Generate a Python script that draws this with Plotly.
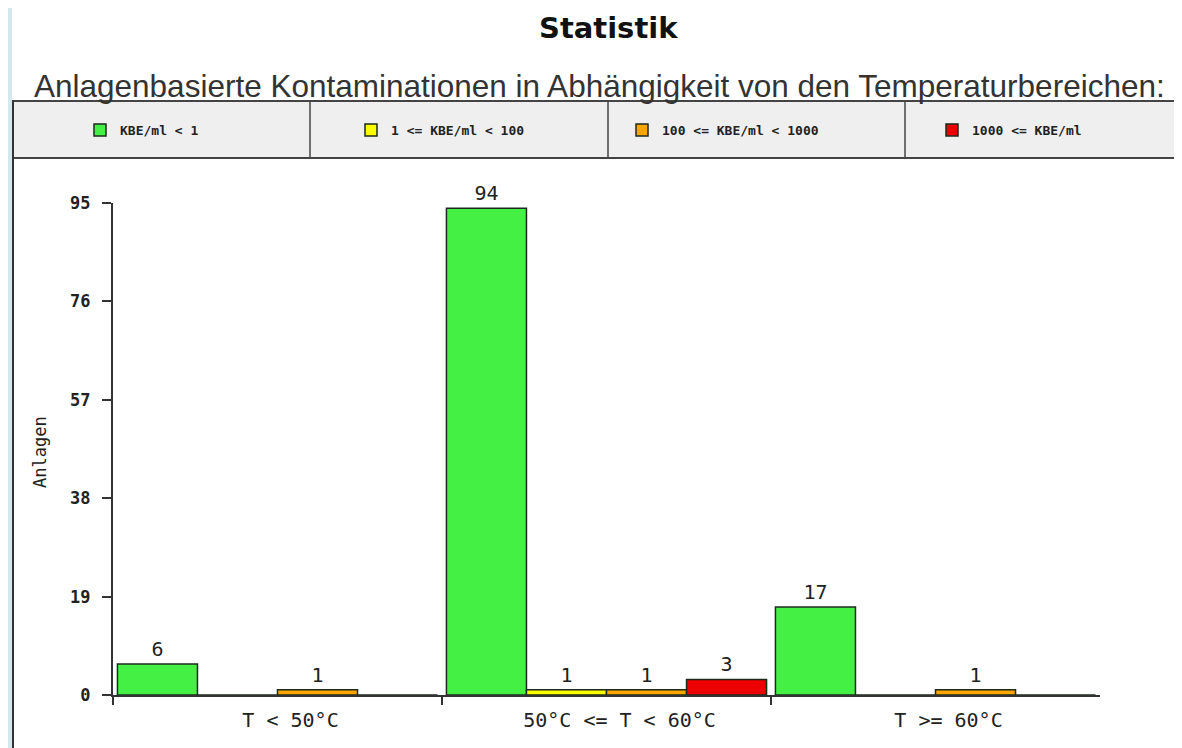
import plotly.graph_objects as go

# page offset caused by the default body margin of the html page
OFF = 8
FW, FH = 1182 - OFF, 748 - OFF

categories = ["T < 50°C", "50°C <= T < 60°C", "T >= 60°C"]
series_names = ["KBE/ml < 1", "1 <= KBE/ml < 100", "100 <= KBE/ml < 1000", "1000 <= KBE/ml"]
green_vals = [6, 94, 17]
yellow_vals = [0, 1, 0]
orange_vals = [1, 1, 1]
red_vals = [0, 3, 0]
series_colors = ["#44f044", "#ffff00", "#ffa500", "#ee0000"]
y_ticks = [0, 19, 38, 57, 76, 95]

title_text = "Statistik"
subtitle_text = "Anlagenbasierte Kontaminationen in Abhängigkeit von den Temperaturbereichen:"
y_title = "Anlagen"


def px(x):
    return (x - OFF) / FW


def py(y):
    return 1 - (y - OFF) / FH


fig = go.Figure()
legend_ids = ["legend", "legend", "legend", "legend2"]
for name, vals, col, lg in zip(series_names, [green_vals, yellow_vals, orange_vals, red_vals],
                               series_colors, legend_ids):
    fig.add_trace(go.Bar(
        name=name,
        x=categories,
        y=vals,
        text=[str(v) if v else "" for v in vals],
        textposition="outside",
        textfont=dict(family="DejaVu Sans Mono", size=20, color="#222"),
        cliponaxis=False,
        legend=lg,
        marker=dict(color=col, line=dict(color="#1e2a1e", width=1.5)),
    ))

shapes = [
    # left light-blue strip
    dict(type="rect", xref="paper", yref="paper", x0=px(0), x1=px(12), y0=py(760), y1=py(0),
         fillcolor="#d3e8ee", line=dict(width=0), layer="below"),
    # vertical frame line
    dict(type="line", xref="paper", yref="paper", x0=px(13), x1=px(13), y0=py(760), y1=py(101),
         line=dict(color="#333", width=2)),
    # legend box
    dict(type="rect", xref="paper", yref="paper", x0=px(13), x1=px(1195), y0=py(158), y1=py(101),
         fillcolor="#efefef", line=dict(color="#444", width=2), layer="below"),
]
for sx in [310, 608, 905]:
    shapes.append(dict(type="line", xref="paper", yref="paper", x0=px(sx), x1=px(sx),
                       y0=py(158), y1=py(101), line=dict(color="#444", width=1.5)))

annotations = [
    dict(text=title_text, x=px(608), y=py(28), xref="paper", yref="paper", showarrow=False,
         xanchor="center", yanchor="middle",
         font=dict(family="DejaVu Sans", size=29, color="#111", weight="bold")),
    dict(text=subtitle_text, x=px(599), y=py(86), xref="paper", yref="paper", showarrow=False,
         xanchor="center", yanchor="middle",
         font=dict(family="Liberation Sans", size=31.5, color="#333")),
    dict(text=y_title, x=px(40), y=py(452), xref="paper", yref="paper", showarrow=False,
         xanchor="center", yanchor="middle", textangle=-90,
         font=dict(family="DejaVu Sans Mono", size=17, color="#222")),
]

legend_font = dict(family="DejaVu Sans Mono", size=13, color="#222", weight="bold")

fig.update_layout(
    width=FW, height=FH,
    margin=dict(l=0, r=0, t=0, b=0, autoexpand=False),
    paper_bgcolor="white",
    plot_bgcolor="white",
    barmode="group",
    bargap=0.027,
    bargroupgap=0,
    showlegend=True,
    legend=dict(
        orientation="h",
        x=px(80), y=py(130), xanchor="left", yanchor="middle",
        bgcolor="rgba(0,0,0,0)",
        entrywidth=226, entrywidthmode="pixels",
        font=legend_font,
        traceorder="normal",
    ),
    legend2=dict(
        orientation="h",
        x=px(932), y=py(130), xanchor="left", yanchor="middle",
        bgcolor="rgba(0,0,0,0)",
        font=legend_font,
    ),
    xaxis=dict(
        domain=[px(113), px(1100)],
        type="category",
        range=[-0.5, 2.5],
        showline=True, linecolor="#333", linewidth=2,
        tickson="boundaries", ticks="outside", ticklen=8, tickcolor="#333", tickwidth=2,
        ticklabelstandoff=6,
        ticklabelshift=13,
        tickfont=dict(family="DejaVu Sans Mono", size=20, color="#222"),
        showgrid=False, zeroline=False,
    ),
    yaxis=dict(
        domain=[py(695), py(203)],
        range=[0, 95],
        tickvals=y_ticks,
        showline=True, linecolor="#333", linewidth=2,
        ticks="outside", ticklen=9, tickcolor="#333", tickwidth=2,
        ticklabelstandoff=8,
        tickfont=dict(family="DejaVu Sans Mono", size=17, color="#222", weight="bold"),
        showgrid=False, zeroline=False,
    ),
    shapes=shapes,
    annotations=annotations,
)

fig.write_html("out.html")
